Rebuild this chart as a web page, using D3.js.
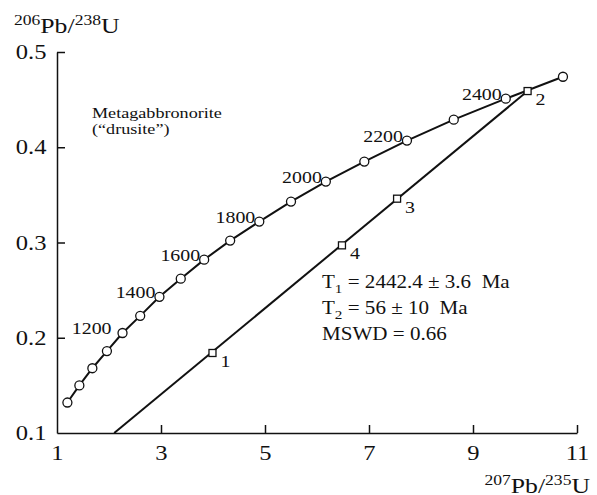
<html>
  <head>
    <script src="https://cdn.jsdelivr.net/npm/d3@7/dist/d3.min.js" charset="UTF-8"></script>
    <style type="text/css">
    body { margin: 0; background: #fff; }
    svg text { font-family: "Liberation Serif", "Times New Roman", serif; fill: #111; }
    .axis path, .axis line { stroke: #111; stroke-width: 1.5; fill: none; }
    path.concordia, path.discordia { stroke: #111; stroke-width: 2; fill: none; }
    circle.age { stroke: #111; stroke-width: 1.3; fill: #fff; }
    rect.sample { stroke: #111; stroke-width: 1.3; fill: #fff; }
    </style>
  </head>
  <body>
    <script type="text/javascript">

      // concordia points, one every 100 Ma
      var ages  = [800, 900, 1000, 1100, 1200, 1300, 1400, 1500, 1600, 1700, 1800, 1900, 2000, 2100, 2200, 2300, 2400, 2500];
      var concX = [1.20, 1.43, 1.68, 1.96, 2.26, 2.60, 2.97, 3.38, 3.83, 4.33, 4.89, 5.50, 6.17, 6.91, 7.73, 8.63, 9.63, 10.73];
      var concY = [0.132, 0.150, 0.168, 0.186, 0.205, 0.223, 0.243, 0.262, 0.282, 0.302, 0.322, 0.343, 0.364, 0.385, 0.407, 0.429, 0.451, 0.474];
      var labeledAges = [1200, 1400, 1600, 1800, 2000, 2200, 2400];

      // zircon samples
      var sampleIds = ["1", "4", "3", "2"];
      var sampleX = [3.99, 6.48, 7.54, 10.05];
      var sampleY = [0.184, 0.297, 0.346, 0.459];

      // discordia line ends
      var discX = [2.10, 10.05];
      var discY = [0.10, 0.459];

      var xTicks = [1, 3, 5, 7, 9, 11];
      var yTicks = [0.1, 0.2, 0.3, 0.4, 0.5];

      var width = 597, height = 495;
      var sx = 1.17;   // the lettering in the original is a little stretched sideways

      var svg = d3.select("body").append("svg")
        .attr("width", width)
        .attr("height", height);

      var x = d3.scaleLinear().domain([1, 11]).range([57, 577]);
      var y = d3.scaleLinear().domain([0.1, 0.5]).range([433, 52]);

      function label(px, py, size, anchor) {
        return svg.append("g")
          .attr("transform", "translate(" + px + "," + py + ")")
          .append("text")
          .attr("transform", "scale(" + sx + ",1)")
          .attr("text-anchor", anchor || "start")
          .style("font-size", size + "px");
      }

      /* axes */
      var xAxis = svg.append("g")
        .attr("class", "axis")
        .attr("transform", "translate(0," + y(0.1) + ")")
        .call(d3.axisBottom(x).tickValues(xTicks).tickFormat(d3.format("d"))
          .tickSizeInner(-8).tickSizeOuter(0).tickPadding(12));
      xAxis.selectAll("text")
        .attr("transform", "scale(" + sx + ",1)")
        .style("font-size", "21px");
      xAxis.selectAll(".tick line").filter(function(d) { return d === 1; }).remove();

      var yAxis = svg.append("g")
        .attr("class", "axis")
        .attr("transform", "translate(" + x(1) + ",0)")
        .call(d3.axisLeft(y).tickValues(yTicks).tickFormat(d3.format(".1f"))
          .tickSizeInner(-8).tickSizeOuter(0).tickPadding(9));
      yAxis.selectAll("text")
        .attr("transform", "scale(" + sx + ",1)")
        .style("font-size", "21px");
      yAxis.selectAll(".tick line").filter(function(d) { return d === 0.1; }).remove();

      /* axis titles */
      var yt = label(14, 33, 22);
      yt.append("tspan").attr("dy", -8).style("font-size", "15px").text("206");
      yt.append("tspan").attr("dy", 8).text("Pb/");
      yt.append("tspan").attr("dy", -8).style("font-size", "15px").text("238");
      yt.append("tspan").attr("dy", 8).text("U");

      var xt = label(590, 493, 22, "end");
      xt.append("tspan").attr("dy", -8).style("font-size", "15px").text("207");
      xt.append("tspan").attr("dy", 8).text("Pb/");
      xt.append("tspan").attr("dy", -8).style("font-size", "15px").text("235");
      xt.append("tspan").attr("dy", 8).text("U");

      /* discordia */
      svg.append("path")
        .attr("class", "discordia")
        .attr("d", d3.line()(discX.map(function(d, i) { return [x(d), y(discY[i])]; })));

      /* concordia */
      var conc = ages.map(function(a, i) { return { age: a, x: concX[i], y: concY[i] }; });
      svg.append("path")
        .attr("class", "concordia")
        .attr("d", d3.line()
          .x(function(d) { return x(d.x); })
          .y(function(d) { return y(d.y); })(conc));

      svg.selectAll("circle.age")
        .data(conc)
        .enter()
        .append("circle")
        .attr("class", "age")
        .attr("cx", function(d) { return x(d.x); })
        .attr("cy", function(d) { return y(d.y); })
        .attr("r", 4.5);

      conc.filter(function(d) { return labeledAges.indexOf(d.age) >= 0; })
        .forEach(function(d) {
          var dx = d.age === 1200 ? -11 : -4;
          label(x(d.x) + dx, y(d.y) + 1, 17, "end").text(d.age);
        });

      /* samples */
      var samples = sampleIds.map(function(id, i) { return { id: id, x: sampleX[i], y: sampleY[i] }; });
      svg.selectAll("rect.sample")
        .data(samples)
        .enter()
        .append("rect")
        .attr("class", "sample")
        .attr("x", function(d) { return x(d.x) - 3.5; })
        .attr("y", function(d) { return y(d.y) - 3.5; })
        .attr("width", 7)
        .attr("height", 7);

      samples.forEach(function(d) {
        label(x(d.x) + 8, y(d.y) + 14, 17).text(d.id);
      });

      /* captions */
      label(92, 118, 15.5).text("Metagabbronorite");
      label(92, 134, 15.5).text("(\u201Cdrusite\u201D)");

      var t1 = label(322, 288, 18);
      t1.append("tspan").text("T");
      t1.append("tspan").attr("dy", 5).style("font-size", "13px").text("1");
      t1.append("tspan").attr("dy", -5).text(" = 2442.4 \u00B1 3.6 \u00A0Ma");

      var t2 = label(322, 314, 18);
      t2.append("tspan").text("T");
      t2.append("tspan").attr("dy", 5).style("font-size", "13px").text("2");
      t2.append("tspan").attr("dy", -5).text(" = 56 \u00B1 10 \u00A0Ma");

      label(322, 340, 18).text("MSWD = 0.66");

    </script>
  </body>
</html>
